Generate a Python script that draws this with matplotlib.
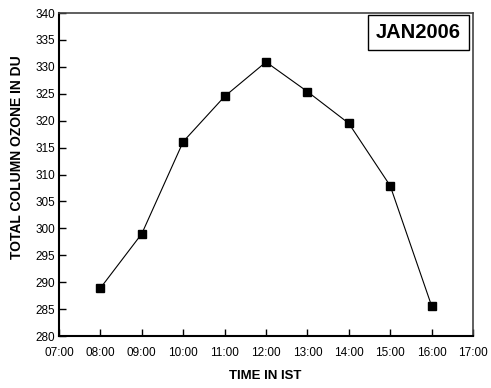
import matplotlib
matplotlib.use("Agg")
import matplotlib.pyplot as plt

hours = [8, 9, 10, 11, 12, 13, 14, 15, 16]
ozone = [288.9, 299.0, 316.1, 324.5, 330.9, 325.4, 319.5, 307.9, 285.6]
xtick_vals = list(range(7, 18))
xtick_labels = [f"{h:02d}:00" for h in xtick_vals]
ytick_vals = list(range(280, 341, 5))

plt.rcParams['font.family'] = ['Liberation Sans', 'DejaVu Sans']

fig = plt.figure(figsize=(4.91, 3.88), dpi=100)
ax = fig.add_axes([59/491, 1-336/388, (473-59)/491, (336-13)/388])

ax.plot(hours, ozone, color='black', lw=0.8, marker='s', ms=6, mfc='black', mec='black')

ax.set_xlim(7, 17)
ax.set_ylim(280, 340)
ax.set_xticks(xtick_vals)
ax.set_xticklabels(xtick_labels)
ax.set_yticks(ytick_vals)
ax.tick_params(direction='in', length=5, width=1, labelsize=8.5, colors='black')
ax.tick_params(axis='x', pad=8)
ax.tick_params(axis='y', pad=3)

for s in ['left', 'bottom']:
    ax.spines[s].set_linewidth(1.5)
    ax.spines[s].set_color('black')
for s in ['top', 'right']:
    ax.spines[s].set_linewidth(1.2)
    ax.spines[s].set_color('#444444')

ax.set_xlabel('TIME IN IST', fontsize=9.5, fontweight='bold')
ax.xaxis.set_label_coords((265-59)/414, -(370-336)/323)
ax.set_ylabel('TOTAL COLUMN OZONE IN DU', fontsize=10, fontweight='bold')
ax.yaxis.set_label_coords(-(59-24)/414, (336-157)/323)

ax.text((461-59)/414, (336-23)/323, 'JAN2006', transform=ax.transAxes, ha='right', va='top',
        fontsize=14.5, fontweight='bold',
        bbox=dict(boxstyle='square,pad=0.38', fc='white', ec='black', lw=1))

fig.savefig('out.png', dpi=100)
